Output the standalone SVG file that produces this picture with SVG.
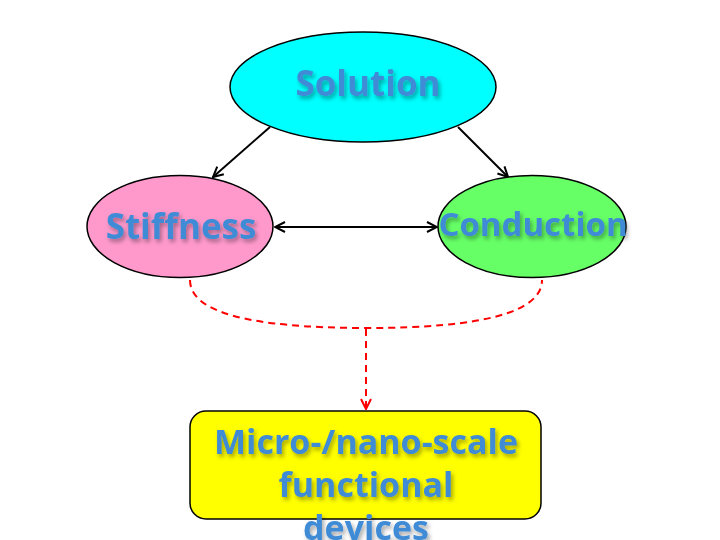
<svg xmlns="http://www.w3.org/2000/svg" width="720" height="540" viewBox="0 0 720 540">
<defs>
<filter id="sh" x="-10%" y="-20%" width="130%" height="150%">
<feDropShadow dx="2" dy="3" stdDeviation="2" flood-color="#000" flood-opacity="0.35"/>
</filter>
<marker id="ah" viewBox="0 0 12 12" refX="11" refY="6" markerWidth="12" markerHeight="12" markerUnits="userSpaceOnUse" orient="auto-start-reverse">
<path d="M1,1 L11,6 L1,11" fill="none" stroke="#000" stroke-width="2"/>
</marker>
<marker id="ahr" viewBox="0 0 12 12" refX="11" refY="6" markerWidth="12" markerHeight="12" markerUnits="userSpaceOnUse" orient="auto">
<path d="M1,1 L11,6 L1,11" fill="none" stroke="#ff0000" stroke-width="2"/>
</marker>
</defs>
<style>
.lbl{font-family:"Open Sans","DejaVu Sans",sans-serif;font-weight:bold;fill:#3f8bd6;text-anchor:middle;filter:url(#sh)}
.node{stroke:#000;stroke-width:1.5}
.edge{stroke:#000;stroke-width:2;fill:none}
.dash{stroke:#ff0000;stroke-width:2;fill:none;stroke-dasharray:7,5}
</style>
<rect width="720" height="540" fill="#fff"/>
<g id="connectors">
<line class="edge" x1="270" y1="127" x2="213" y2="177" marker-end="url(#ah)"/>
<line class="edge" x1="458" y1="127" x2="508" y2="177" marker-end="url(#ah)"/>
<line class="edge" x1="275" y1="227" x2="437" y2="227" marker-start="url(#ah)" marker-end="url(#ah)"/>
<path class="dash" d="M190,280 Q190,328 366,328 Q542,328 542,280"/>
<line class="dash" x1="366" y1="329" x2="366" y2="409" marker-end="url(#ahr)"/>
</g>
<g id="solution">
<ellipse class="node" cx="363" cy="87" rx="133" ry="55" fill="#00ffff"/>
<text class="lbl" x="368" y="96" font-size="35">Solution</text>
</g>
<g id="stiffness">
<ellipse class="node" cx="180" cy="226.5" rx="93" ry="51" fill="#ff99cc" stroke-width="1"/>
<text class="lbl" x="181" y="239" font-size="35">Stiffness</text>
</g>
<g id="conduction">
<ellipse class="node" cx="532" cy="226.5" rx="94" ry="51" fill="#66ff66" stroke-width="1"/>
<text class="lbl" x="533" y="236" font-size="33">Conduction</text>
</g>
<g id="devices">
<rect class="node" x="190" y="411" width="351" height="108" rx="16" fill="#ffff00" stroke-width="1"/>
<text class="lbl" x="366" y="454" font-size="34">Micro-/nano-scale</text>
<text class="lbl" x="366" y="497" font-size="34">functional</text>
<text class="lbl" x="366" y="540" font-size="34">devices</text>
</g>
</svg>
